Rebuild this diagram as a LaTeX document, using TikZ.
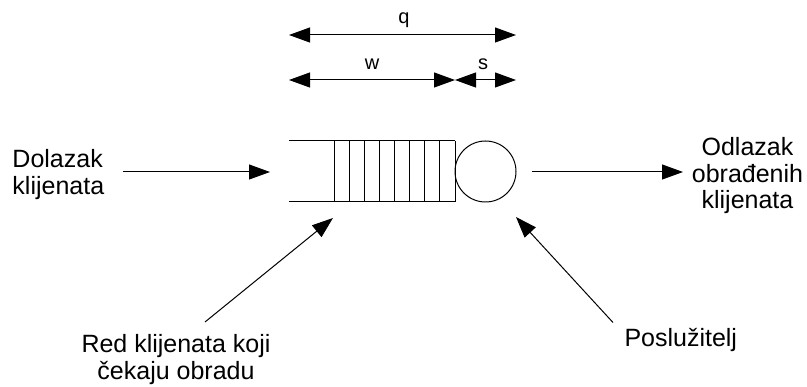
\documentclass[tikz,border=0pt]{standalone}
\usepackage{fontspec}
\setmainfont{Liberation Sans}
\usetikzlibrary{arrows.meta}
\begin{document}
\begin{tikzpicture}[x=1pt,y=-1pt,line width=1pt,
  tip/.style={-{Triangle[length=21pt,width=15pt]}},
  dtip/.style={{Triangle[length=21pt,width=15pt]}-{Triangle[length=21pt,width=15pt]}},
  lbl/.style={font=\fontsize{25}{26.5}\selectfont,inner sep=0pt},
  dimlbl/.style={font=\fontsize{20}{22}\selectfont,inner sep=0pt,anchor=base},
  qline/.style={line width=1pt}]
\useasboundingbox (0,0) rectangle (807,387);
% queue
\coordinate (qtl) at (289,141);
\coordinate (qtr) at (455,141);
\coordinate (qbl) at (289,202);
\coordinate (qbr) at (455,202);
\draw[qline] (qtl) -- (qtr);
\draw[qline] (qbl) -- (qbr);
\foreach \i in {0,...,8} \draw[qline] ({334+\i*15.125},141) -- ({334+\i*15.125},202);
% server
\node[circle,draw,minimum size=61pt,inner sep=0pt] (srv) at (485.5,171.5) {};
% dimension arrows
\coordinate (qL) at (289,35);
\coordinate (qR) at (516,35);
\coordinate (wL) at (289,80);
\coordinate (wR) at (455,80);
\coordinate (sR) at (516,80);
\draw[dtip] (qL) -- (qR);
\draw[dtip] (wL) -- (wR);
\draw[dtip] (wR) -- (sR);
\node[dimlbl] (ql) at (404,24) {q};
\node[dimlbl] (wl) at (372,70) {w};
\node[dimlbl] (sl) at (483,70) {s};
% texts
\node[lbl,anchor=north west,align=left] (arr) at (12,149) {Dolazak\\klijenata};
\node[lbl,anchor=north,align=center] (dep) at (747.5,137) {Odlazak\\obrađenih\\klijenata};
\node[lbl,anchor=north,align=center] (red) at (176,334) {Red klijenata koji\\čekaju obradu};
\node[lbl,anchor=base west] (posl) at (624,347) {Poslužitelj};
% connectors
\coordinate (a1) at (123,172);
\coordinate (a2) at (270,172);
\coordinate (d1) at (532,172);
\coordinate (d2) at (683,172);
\coordinate (r1) at (205,322);
\coordinate (r2) at (333,218);
\coordinate (p1) at (613,322.5);
\coordinate (p2) at (516,217);
\draw[tip] (a1) -- (a2);
\draw[tip] (d1) -- (d2);
\draw[tip] (r1) -- (r2);
\draw[tip] (p1) -- (p2);
\end{tikzpicture}
\end{document}
